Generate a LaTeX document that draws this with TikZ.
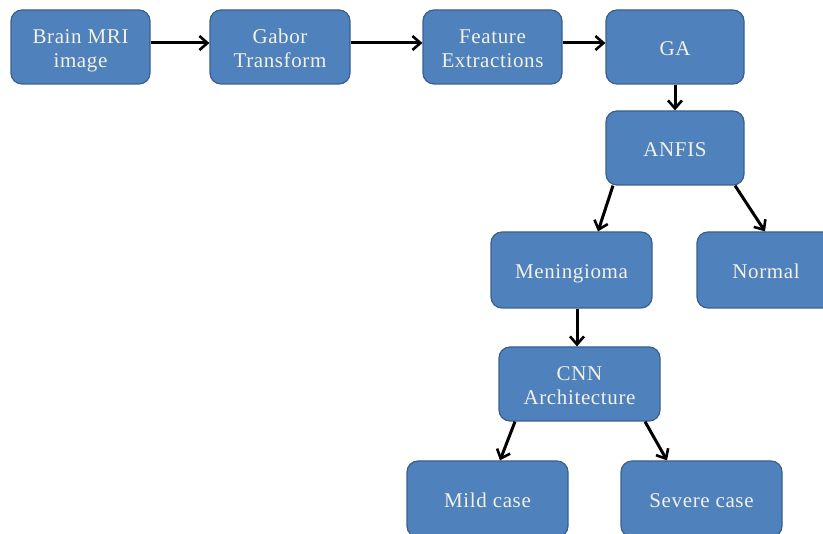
\documentclass[tikz,border=0pt]{standalone}
\usepackage{fontspec}
\setmainfont{Liberation Serif}[LetterSpace=3]
\usetikzlibrary{arrows.meta,calc}
\definecolor{boxfill}{HTML}{4F81BD}
\definecolor{boxdraw}{HTML}{3A5F8C}
\definecolor{boxtext}{HTML}{F2F2E4}
\newcommand{\boxlbl}[1]{\raisebox{-4pt}[\height][\depth]{\begin{tabular}{@{}c@{}}#1\end{tabular}}}
\tikzset{
  blk/.style={draw=boxdraw, line width=1.2pt, fill=boxfill, rounded corners=11pt,
    text=boxtext, align=center, inner sep=0pt,
    font=\fontsize{21}{24}\selectfont, minimum height=74pt},
  arr/.style={line width=3pt, -{Straight Barb[length=8pt,width=14pt,line width=2.6pt]}}
}
\begin{document}
\begin{tikzpicture}[x=1pt,y=-1pt]
\useasboundingbox (0,0) rectangle (823,534);
\clip (0,0) rectangle (823,534);
\node[blk, minimum width=139pt] (brain) at (80.5,47) {\boxlbl{Brain MRI\\image}};
\node[blk, minimum width=140pt] (gabor) at (280,47) {\boxlbl{Gabor\\Transform}};
\node[blk, minimum width=139pt] (feat) at (492.5,47) {\boxlbl{Feature\\Extractions}};
\node[blk, minimum width=138pt] (ga) at (675,47) {\boxlbl{GA}};
\node[blk, minimum width=138pt] (anfis) at (675,148) {\boxlbl{ANFIS}};
\node[blk, minimum width=161pt, minimum height=76pt] (men) at (571.5,270) {\boxlbl{Meningioma}};
\node[blk, minimum width=138pt, minimum height=76pt] (norm) at (766,270) {\boxlbl{Normal}};
\node[blk, minimum width=161pt] (cnn) at (579.5,384) {\boxlbl{CNN\\Architecture}};
\node[blk, minimum width=161pt, minimum height=76pt] (mild) at (487.5,499) {\boxlbl{Mild case}};
\node[blk, minimum width=161pt, minimum height=76pt] (sev) at (701.5,499) {\boxlbl{Severe case}};
\draw[arr] ($(brain.east)+(0,-4)$) -- ($(gabor.west)+(0,-4)$);
\draw[arr] ($(gabor.east)+(0,-4)$) -- ($(feat.west)+(0,-4)$);
\draw[arr] ($(feat.east)+(0,-4)$) -- ($(ga.west)+(0,-4)$);
\draw[arr] (ga.south) -- (anfis.north);
\draw[arr] ($(anfis.south)+(-62,0)$) -- ($(men.north)+(26.5,0)$);
\draw[arr] ($(anfis.south)+(60,0)$) -- ($(norm.north)+(-1,0)$);
\draw[arr] ($(men.south)+(5.5,0)$) -- ($(cnn.north)+(-2.5,0)$);
\draw[arr] ($(cnn.south)+(-64.5,0)$) -- ($(mild.north)+(12.5,0)$);
\draw[arr] ($(cnn.south)+(65.5,0)$) -- ($(sev.north)+(-34.5,0)$);
\end{tikzpicture}
\end{document}
